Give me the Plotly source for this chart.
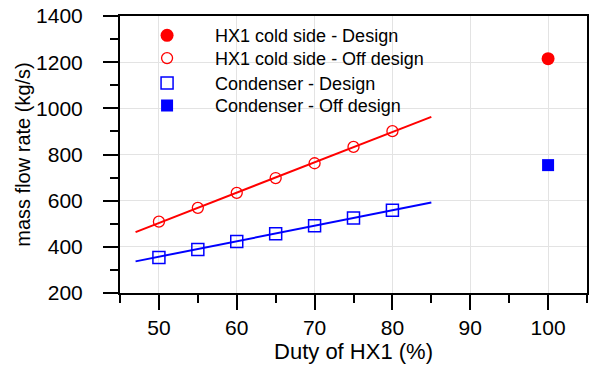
import plotly.graph_objects as go

# Off-design points (duty of HX1 in %)
duty_off = [50, 55, 60, 65, 70, 75, 80]
hx1_off = [509, 569, 634, 698, 762, 833, 901]
cond_off = [354, 388, 423, 457, 491, 525, 558]

# Design points
duty_design = [100]
hx1_design = [1215]
cond_design = [754]

# Linear fit lines (endpoints)
fit_x = [47, 85]
hx1_fit = [464, 963]
cond_fit = [337, 592]

RED = "#ff0000"
BLUE = "#0000ff"
FONT = "Liberation Sans, Arial, sans-serif"

fig = go.Figure()

fig.add_trace(go.Scatter(x=fit_x, y=hx1_fit, mode="lines", line=dict(color=RED, width=2),
                         showlegend=False, hoverinfo="skip"))
fig.add_trace(go.Scatter(x=fit_x, y=cond_fit, mode="lines", line=dict(color=BLUE, width=2),
                         showlegend=False, hoverinfo="skip"))

fig.add_trace(go.Scatter(x=duty_design, y=hx1_design, mode="markers", name="HX1 cold side - Design",
                         legend="legend",
                         marker=dict(symbol="circle", size=13, color=RED, line=dict(width=0))))
fig.add_trace(go.Scatter(x=duty_off, y=hx1_off, mode="markers", name="HX1 cold side - Off design",
                         legend="legend2",
                         marker=dict(symbol="circle-open", size=11, color=RED, line=dict(width=1.3, color=RED))))
fig.add_trace(go.Scatter(x=duty_off, y=cond_off, mode="markers", name="Condenser - Design",
                         legend="legend3",
                         marker=dict(symbol="square-open", size=12, color=BLUE, line=dict(width=1.5, color=BLUE))))
fig.add_trace(go.Scatter(x=duty_design, y=cond_design, mode="markers", name="Condenser - Off design",
                         legend="legend4",
                         marker=dict(symbol="square", size=12, color=BLUE, line=dict(width=0))))

axis_common = dict(
    showline=True, linecolor="black", linewidth=2, mirror=True,
    showgrid=True, gridcolor="#e3e3e3", gridwidth=1,
    ticks="outside", ticklen=15, tickwidth=2, tickcolor="black",
    tickfont=dict(family=FONT, size=21, color="black"),
    zeroline=False, automargin=False,
)

fig.update_xaxes(
    range=[45, 105], tickvals=[50, 60, 70, 80, 90, 100],
    minor=dict(tickvals=[45, 55, 65, 75, 85, 95, 105], ticks="outside", ticklen=8, tickwidth=2,
               tickcolor="black", showgrid=False),
    title=dict(text="Duty of HX1 (%)", font=dict(family=FONT, size=22, color="black"), standoff=0),
    **axis_common,
)
fig.update_yaxes(
    range=[200, 1400], tickvals=[200, 400, 600, 800, 1000, 1200, 1400],
    minor=dict(tickvals=[300, 500, 700, 900, 1100, 1300], ticks="outside", ticklen=8, tickwidth=2,
               tickcolor="black", showgrid=False),
    ticklabelstandoff=16,
    title=dict(text="mass flow rate (kg/s)", font=dict(family=FONT, size=20, color="black"), standoff=0),
    **axis_common,
)

legend_style = dict(
    xanchor="left", yanchor="middle",
    bgcolor="rgba(0,0,0,0)", borderwidth=0,
    font=dict(family=FONT, size=18, color="black"),
    itemwidth=86, tracegroupgap=0,
)
row_y = [0.929, 0.847, 0.757, 0.676]
legend_x = -0.002

fig.update_layout(
    width=595, height=365,
    margin=dict(l=120, r=8, t=16, b=72),
    plot_bgcolor="white", paper_bgcolor="white",
    legend=dict(x=legend_x, y=row_y[0], **legend_style),
    legend2=dict(x=legend_x, y=row_y[1], **legend_style),
    legend3=dict(x=legend_x, y=row_y[2], **legend_style),
    legend4=dict(x=legend_x, y=row_y[3], **legend_style),
)

fig.write_html("out.html", config={"displayModeBar": False},
               post_script="document.body.style.margin='0';")
